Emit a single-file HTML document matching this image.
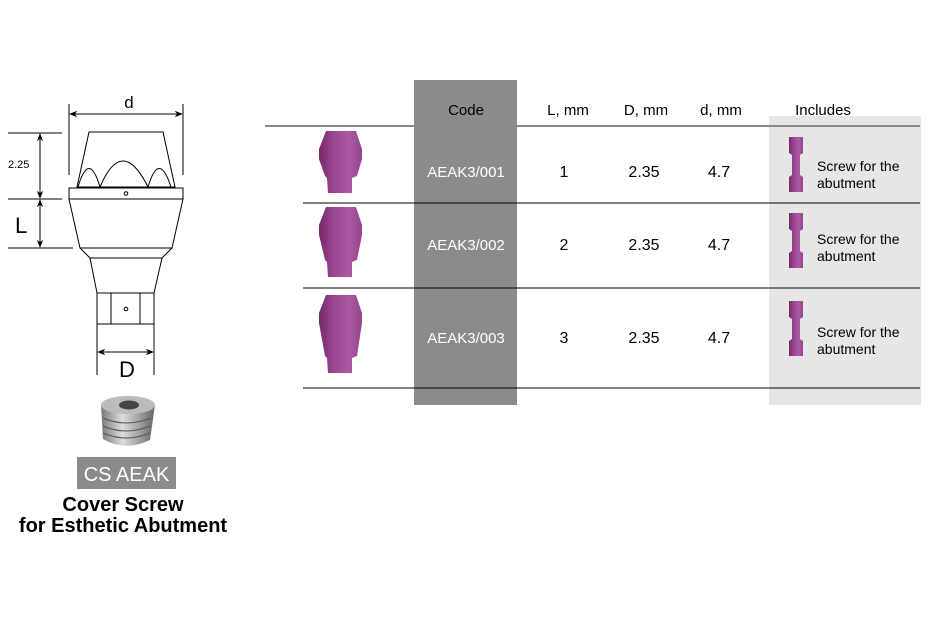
<!DOCTYPE html>
<html><head><meta charset="utf-8"><style>
body{margin:0;background:#fff;width:935px;height:625px;overflow:hidden;font-family:"Liberation Sans",Arial,sans-serif}
svg{display:block}
</style></head><body>
<svg width="935" height="625" viewBox="0 0 935 625">
<defs>
<marker id="ar" viewBox="0 0 10 10" refX="9" refY="5" markerWidth="8" markerHeight="8" orient="auto-start-reverse"><path d="M0,1 L10,5 L0,9 L3,5 z" fill="#000"/></marker>
<linearGradient id="pk" x1="0" x2="1"><stop offset="0" stop-color="#742a68"/><stop offset="0.35" stop-color="#9a4790"/><stop offset="0.7" stop-color="#ab5ba2"/><stop offset="1" stop-color="#94448a"/></linearGradient>
<linearGradient id="mt" x1="0" x2="1"><stop offset="0" stop-color="#777"/><stop offset="0.4" stop-color="#ddd"/><stop offset="1" stop-color="#666"/></linearGradient>
</defs>
<g fill="none" stroke="#000" stroke-width="1">
<line x1="69" y1="104" x2="69" y2="175"/><line x1="183" y1="104" x2="183" y2="175"/>
<line x1="70" y1="114" x2="182" y2="114" marker-start="url(#ar)" marker-end="url(#ar)"/>
<path d="M89,132 L163,132 L175,187 L77,187 Z" fill="#fff"/>
<path d="M78,187 Q89,150 100,187 Q122,135 148,187 Q159,150 171,187"/>
<rect x="69" y="188" width="114" height="11" fill="#fff"/>
<circle cx="126" cy="193.5" r="1.8"/>
<path d="M69,199 L183,199 L172,248 L80,248 Z"/>
<path d="M80,248 L90,258 L162,258 L172,248"/>
<path d="M90,258 L97,293 L154,293 L162,258"/>
<rect x="97" y="293" width="57" height="31"/>
<line x1="111" y1="293" x2="111" y2="324"/><line x1="140" y1="293" x2="140" y2="324"/>
<circle cx="126" cy="309" r="1.8"/>
<line x1="97" y1="324" x2="97" y2="375"/><line x1="154" y1="324" x2="154" y2="375"/>
<line x1="98" y1="352" x2="153" y2="352" marker-start="url(#ar)" marker-end="url(#ar)"/>
<line x1="8" y1="133" x2="62" y2="133"/><line x1="8" y1="199" x2="62" y2="199"/><line x1="8" y1="248" x2="73" y2="248"/>
<line x1="40" y1="134" x2="40" y2="198" marker-start="url(#ar)" marker-end="url(#ar)"/>
<line x1="40" y1="200" x2="40" y2="247" marker-start="url(#ar)" marker-end="url(#ar)"/>
</g>
<text x="129" y="108" font-size="17" text-anchor="middle">d</text>
<text x="8" y="168" font-size="11">2.25</text>
<text x="15" y="233" font-size="22">L</text>
<text x="127" y="377" font-size="22" text-anchor="middle">D</text>
<g>
<path d="M101,405 Q128,395 155,405 L150,440 Q125,452 103,439 Z" fill="url(#mt)"/>
<ellipse cx="128" cy="405" rx="27" ry="9" fill="#bbb"/>
<ellipse cx="129" cy="405" rx="10" ry="4.5" fill="#444"/>
<path d="M103,418 Q126,428 151,418 M103,426 Q126,436 150,426 M103,433 Q126,443 150,433" stroke="#555" fill="none"/>
</g>
<rect x="77" y="457" width="99" height="32" fill="#8a8c8c"/>
<text x="126.5" y="481" font-size="20" fill="#fff" text-anchor="middle">CS AEAK</text>
<text x="123" y="511" font-size="20" font-weight="bold" text-anchor="middle">Cover Screw</text>
<text x="123" y="532" font-size="20" font-weight="bold" text-anchor="middle">for Esthetic Abutment</text>
<rect x="414" y="80" width="103" height="325" fill="#8a8c8c"/>
<rect x="769" y="116" width="152" height="289" fill="#e6e6e6"/>
<line x1="265" y1="126" x2="920" y2="126" stroke="#888" stroke-width="2"/>
<line x1="303" y1="203" x2="920" y2="203" stroke="#000"/>
<line x1="303" y1="288" x2="920" y2="288" stroke="#000"/>
<line x1="303" y1="388" x2="920" y2="388" stroke="#000"/>
<g font-size="15" text-anchor="middle">
<text x="466" y="115">Code</text><text x="568" y="115">L, mm</text><text x="646" y="115">D, mm</text><text x="721" y="115">d, mm</text><text x="823" y="115">Includes</text>
</g>
<g id="rows"></g>
</svg>
<script>
const codes=["AEAK3/001","AEAK3/002","AEAK3/003"];
const Lv=["1","2","3"];
const Dv=["2.35","2.35","2.35"];
const dv=["4.7","4.7","4.7"];
const tops=[131,207,295];
const textY=[177,250,343];
const g=document.getElementById('rows');
const ns="http://www.w3.org/2000/svg";
function mk(t,a,txt){const e=document.createElementNS(ns,t);for(const k in a)e.setAttribute(k,a[k]);if(txt)e.textContent=txt;g.appendChild(e);return e;}
codes.forEach((c,i)=>{
 const y=textY[i],t=tops[i],ext=i*8;
 let e=mk('path',{d:`M326,${t} L356,${t} L362,${t+18} L362,${t+28} L357,${t+45+ext} L352,${t+47+ext} L352,${t+62+ext} L328,${t+62+ext} L327,${t+47+ext} L325,${t+45+ext} L319,${t+28} L319,${t+18} Z`,fill:'url(#pk)'});
 
 
 e=mk('text',{x:466,y:y,'font-size':15,fill:'#fff','text-anchor':'middle'},c);
 
 
 e=mk('text',{x:564,y:y,'font-size':16,'text-anchor':'middle'},Lv[i]);
 
 
 e=mk('text',{x:644,y:y,'font-size':16,'text-anchor':'middle'},Dv[i]);
 
 
 e=mk('text',{x:719,y:y,'font-size':16,'text-anchor':'middle'},dv[i]);
 
 
 const sy=t+6;
 e=mk('path',{d:`M789,${sy} L803,${sy} L803,${sy+16} L800,${sy+18} L800,${sy+38} L803,${sy+40} L803,${sy+55} L789,${sy+55} L789,${sy+40} L792,${sy+38} L792,${sy+18} L789,${sy+16} Z`,fill:'url(#pk)'});
 
 
 e=mk('text',{x:817,y:y-6,'font-size':14},'Screw for the');
 
 
 e=mk('text',{x:817,y:y+11,'font-size':14},'abutment');
 
 
});
</script>
</body></html>
